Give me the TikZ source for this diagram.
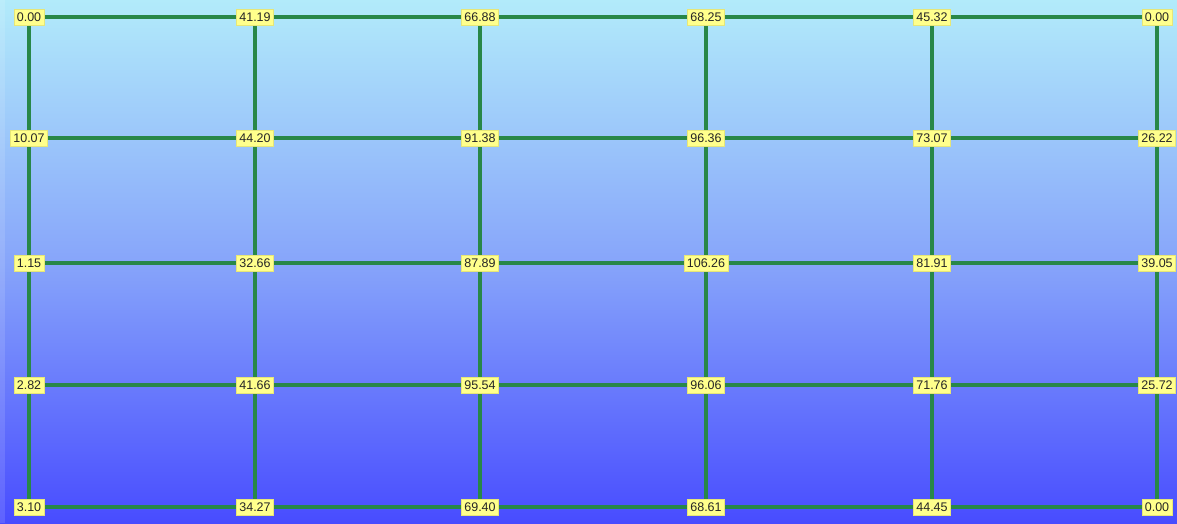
\documentclass[tikz,border=0pt]{standalone}
\usepackage{fontspec}
\setmainfont{Liberation Sans}
\definecolor{topc}{RGB}{178,235,250}
\definecolor{midc}{RGB}{135,165,250}
\definecolor{botc}{RGB}{72,76,255}
\definecolor{gridc}{RGB}{40,135,72}
\definecolor{labc}{RGB}{255,255,140}
\definecolor{labd}{RGB}{230,230,120}
\begin{document}
\begin{tikzpicture}[x=1pt,y=-1pt,
  val/.style={fill=labc,draw=labd,line width=0.4pt,inner xsep=3pt,inner ysep=0pt,
    font=\fontsize{12.5}{13}\selectfont,text=black!85,minimum height=16pt},
  gline/.style={draw=gridc,line width=3.3pt}]
\useasboundingbox (0,0) rectangle (1177,523);
\shade[top color=topc,bottom color=botc,middle color=midc] (0,0) rectangle (1177,523);
\fill[white,opacity=0.12] (0,0) rectangle (5,523);
\def\cols{{29,255,480,706,932,1157}}
\def\rows{{17,138,263,385,507}}
% coordinates
\foreach \c in {0,...,5}{
  \foreach \r in {0,...,4}{
    \pgfmathsetmacro\xx{\cols[\c]}
    \pgfmathsetmacro\yy{\rows[\r]}
    \coordinate (p\c-\r) at (\xx,\yy);
  }
}
% grid lines
\foreach \r in {0,...,4}{
  \draw[gline] (p0-\r) -- (p1-\r) -- (p2-\r) -- (p3-\r) -- (p4-\r) -- (p5-\r);
}
\foreach \c in {0,...,5}{
  \draw[gline] (p\c-0) -- (p\c-1) -- (p\c-2) -- (p\c-3) -- (p\c-4);
}
% labels
\node[val] (n00) at (p0-0) {0.00};
\node[val] (n10) at (p1-0) {41.19};
\node[val] (n20) at (p2-0) {66.88};
\node[val] (n30) at (p3-0) {68.25};
\node[val] (n40) at (p4-0) {45.32};
\node[val] (n50) at (p5-0) {0.00};
\node[val] (n01) at (p0-1) {10.07};
\node[val] (n11) at (p1-1) {44.20};
\node[val] (n21) at (p2-1) {91.38};
\node[val] (n31) at (p3-1) {96.36};
\node[val] (n41) at (p4-1) {73.07};
\node[val] (n51) at (p5-1) {26.22};
\node[val] (n02) at (p0-2) {1.15};
\node[val] (n12) at (p1-2) {32.66};
\node[val] (n22) at (p2-2) {87.89};
\node[val] (n32) at (p3-2) {106.26};
\node[val] (n42) at (p4-2) {81.91};
\node[val] (n52) at (p5-2) {39.05};
\node[val] (n03) at (p0-3) {2.82};
\node[val] (n13) at (p1-3) {41.66};
\node[val] (n23) at (p2-3) {95.54};
\node[val] (n33) at (p3-3) {96.06};
\node[val] (n43) at (p4-3) {71.76};
\node[val] (n53) at (p5-3) {25.72};
\node[val] (n04) at (p0-4) {3.10};
\node[val] (n14) at (p1-4) {34.27};
\node[val] (n24) at (p2-4) {69.40};
\node[val] (n34) at (p3-4) {68.61};
\node[val] (n44) at (p4-4) {44.45};
\node[val] (n54) at (p5-4) {0.00};
\end{tikzpicture}
\end{document}
